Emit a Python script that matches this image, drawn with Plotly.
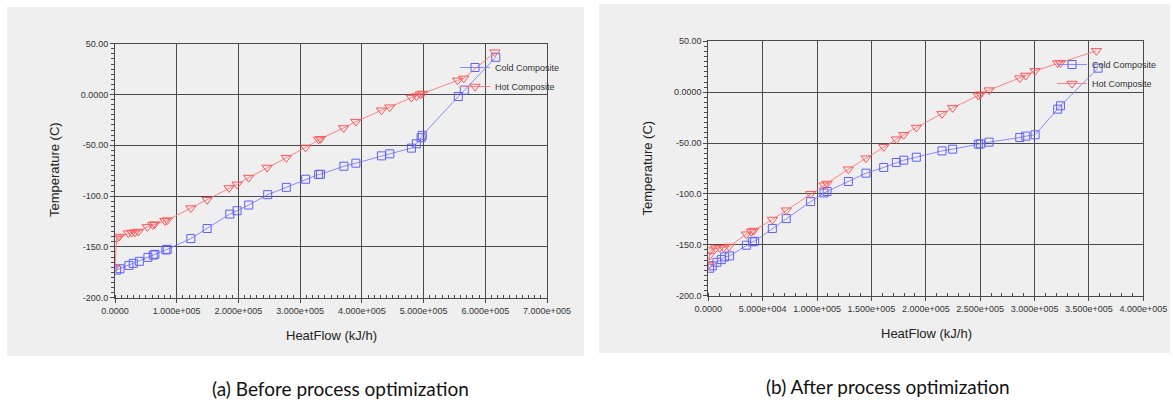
import plotly.graph_objects as go

# ---------------- data: (a) before optimization ----------------
a_cold_q = [2.7e3, 8.1e3, 22.6e3, 29.6e3, 39.4e3, 53.4e3, 62e3, 64.7e3, 82.5e3, 84.6e3,
            122.9e3, 149.3e3, 186e3, 197.8e3, 216.7e3, 247.4e3, 277.6e3, 308.9e3, 329.9e3, 333e3,
            370.9e3, 390.3e3, 431.8e3, 445.3e3, 480.3e3, 488.4e3, 496e3, 498e3, 556.3e3, 566e3, 617e3]
a_cold_t = [-172.8, -171.5, -168.2, -166.2, -164.2, -160.3, -158.0, -157.3, -153.0, -152.4,
            -141.8, -131.9, -117.7, -114.4, -108.8, -98.6, -91.4, -83.4, -78.8, -78.5,
            -70.6, -67.6, -60.4, -58.4, -52.8, -48.5, -42.5, -40.2, -2.0, 4.3, 36.6]

a_hot_q = [0, 2.7e3, 7e3, 21.6e3, 27e3, 32.3e3, 37.7e3, 52.3e3, 61e3, 64.2e3, 80.9e3, 84.6e3,
           122.9e3, 149.3e3, 184.9e3, 197.8e3, 216.7e3, 246.4e3, 277.6e3, 308.9e3, 329.9e3, 333.2e3,
           370.4e3, 390.3e3, 431.8e3, 445.3e3, 480.3e3, 488.4e3, 494.9e3, 498.7e3, 555.3e3, 565e3, 615.6e3]
a_hot_t = [-169.5, -141.5, -139.8, -136.5, -135.9, -135.6, -134.9, -130.3, -128.3, -127.6, -124.3, -123.7,
           -111.8, -103.6, -92.0, -88.4, -81.8, -71.9, -62.3, -52.1, -44.2, -43.5,
           -33.0, -26.7, -15.5, -12.5, -3.0, -1.6, 0.3, 1.0, 13.9, 15.8, 41.6]

# ---------------- data: (b) after optimization ----------------
b_cold_q = [1.2e3, 3.7e3, 8e3, 12e3, 15e3, 19.6e3, 35e3, 40.5e3, 42.6e3, 58.9e3, 71.7e3, 94.1e3,
            106.4e3, 109.2e3, 128.8e3, 145e3, 161.3e3, 172.9e3, 179.7e3, 191.3e3, 214.9e3, 224.7e3,
            248.3e3, 250.2e3, 258.2e3, 286.4e3, 291.9e3, 300.5e3, 321.3e3, 323.8e3, 358.4e3]
b_cold_t = [-173.0, -170.7, -167.1, -164.5, -161.9, -160.9, -150.4, -147.1, -146.5, -134.0, -124.2, -107.5,
            -99.0, -97.6, -87.8, -79.6, -74.0, -69.1, -66.8, -63.9, -57.7, -56.0,
            -51.1, -50.8, -49.1, -44.6, -43.2, -41.9, -16.7, -13.4, 23.6]

b_hot_q = [0.3e3, 1.2e3, 1.8e3, 6.7e3, 10.4e3, 14.1e3, 19e3, 35e3, 39.6e3, 41.7e3, 58.9e3, 71.7e3,
           94.1e3, 106.4e3, 109.2e3, 128.8e3, 145e3, 161.3e3, 172.9e3, 179.7e3, 191.3e3, 214.9e3,
           224.7e3, 248.3e3, 250.2e3, 258.2e3, 286.4e3, 291.9e3, 300.5e3, 321.3e3, 323.8e3, 356.9e3]
b_hot_t = [-169.7, -160.5, -155.3, -153.3, -153.0, -152.7, -151.7, -139.6, -137.0, -136.0, -125.2, -116.0,
           -99.9, -91.4, -89.8, -75.7, -64.9, -53.7, -46.2, -41.9, -34.7, -21.3,
           -15.4, -3.3, -2.0, 2.0, 13.8, 16.4, 21.0, 28.5, 28.8, 40.6]

# ---------------- tick labels ----------------
y_tickvals = [50, 0, -50, -100, -150, -200]
y_ticktext = ["50.00", "0.0000", "-50.00", "-100.0", "-150.0", "-200.0"]
a_x_tickvals = [0, 1e5, 2e5, 3e5, 4e5, 5e5, 6e5, 7e5]
a_x_ticktext = ["0.0000", "1.000e+005", "2.000e+005", "3.000e+005", "4.000e+005",
                "5.000e+005", "6.000e+005", "7.000e+005"]
b_x_tickvals = [0, 5e4, 1e5, 1.5e5, 2e5, 2.5e5, 3e5, 3.5e5, 4e5]
b_x_ticktext = ["0.0000", "5.000e+004", "1.000e+005", "1.500e+005", "2.000e+005",
                "2.500e+005", "3.000e+005", "3.500e+005", "4.000e+005"]

series_names = ["Cold Composite", "Hot Composite"]
captions = ["(a) Before process optimization", "(b) After process optimization"]
axis_titles = ["HeatFlow (kJ/h)", "Temperature (C)"]

W, H = 1173, 403
def px(x):
    return x / W
def py(y):
    return 1 - y / H

BLUE_LINE = "rgba(120,120,255,0.85)"
BLUE_MK = "rgb(95,95,255)"
RED_LINE = "rgba(255,120,120,0.9)"
RED_MK = "rgb(255,85,85)"
GRAY_BG = "#efefef"
FONT = "Liberation Sans, Arial, sans-serif"
CAP_FONT = "Lato, Liberation Sans, sans-serif"

fig = go.Figure()

def add_pair(q_c, t_c, q_h, t_h, xa, ya, leg):
    fig.add_trace(go.Scatter(
        x=q_c, y=t_c, name=series_names[0], mode="lines+markers",
        line=dict(color=BLUE_LINE, width=1),
        marker=dict(symbol="square-open", size=8, color=BLUE_MK, line=dict(color=BLUE_MK, width=1)),
        xaxis=xa, yaxis=ya, legend=leg))
    fig.add_trace(go.Scatter(
        x=q_h, y=t_h, name=series_names[1], mode="lines+markers",
        line=dict(color=RED_LINE, width=1),
        marker=dict(symbol="triangle-down-open", size=9, color=RED_MK, line=dict(color=RED_MK, width=1)),
        xaxis=xa, yaxis=ya, legend=leg))

add_pair(a_cold_q, a_cold_t, a_hot_q, a_hot_t, "x", "y", "legend")
add_pair(b_cold_q, b_cold_t, b_hot_q, b_hot_t, "x2", "y2", "legend2")

axis_common = dict(
    showgrid=True, gridcolor="#4a4a4a", gridwidth=1,
    showline=True, linecolor="#4a4a4a", linewidth=1, mirror=True,
    ticks="outside", ticklen=4, tickcolor="#4a4a4a",
    tickfont=dict(family=FONT, size=9, color="#333333"),
    zeroline=False, fixedrange=True, automargin=False,
)

def ann(text, x, y, size, fam, color, angle=0):
    return dict(text=text, xref="paper", yref="paper", x=px(x), y=py(y),
                xanchor="center", yanchor="middle", textangle=angle,
                showarrow=False, font=dict(family=fam, size=size, color=color))

legend_common = dict(xanchor="left", yanchor="top", xref="container", yref="container",
                     bgcolor="rgba(0,0,0,0)", font=dict(family=FONT, size=9, color="#333333"),
                     itemwidth=30, tracegroupgap=0)

fig.update_layout(
    template="none",
    width=W, height=H, autosize=False,
    margin=dict(l=0, r=0, t=0, b=0, pad=0, autoexpand=False),
    paper_bgcolor="white", plot_bgcolor=GRAY_BG,
    font=dict(family=FONT, color="#333333"),
    hovermode=False,
    xaxis=dict(domain=[px(115), px(547)], range=[0, 7e5], anchor="y",
               tickmode="array", tickvals=a_x_tickvals, ticktext=a_x_ticktext,
               minor=dict(dtick=1e4, ticks="inside", ticklen=3, tickcolor="#4a4a4a", showgrid=False),
               **axis_common),
    yaxis=dict(domain=[py(297.7), py(43.7)], range=[-200, 50], anchor="x",
               tickmode="array", tickvals=y_tickvals, ticktext=y_ticktext,
               minor=dict(dtick=5, ticks="outside", ticklen=3, tickcolor="#4a4a4a", showgrid=False),
               **axis_common),
    xaxis2=dict(domain=[px(708.3), px(1143.3)], range=[0, 4e5], anchor="y2",
                tickmode="array", tickvals=b_x_tickvals, ticktext=b_x_ticktext,
                minor=dict(dtick=1e4, ticks="inside", ticklen=3, tickcolor="#4a4a4a", showgrid=False),
                **axis_common),
    yaxis2=dict(domain=[py(295.7), py(41.3)], range=[-200, 50], anchor="x2",
                tickmode="array", tickvals=y_tickvals, ticktext=y_ticktext,
                minor=dict(dtick=5, ticks="outside", ticklen=3, tickcolor="#4a4a4a", showgrid=False),
                **axis_common),
    legend=dict(x=px(455), y=py(53), **legend_common),
    legend2=dict(x=px(1052), y=py(50), **legend_common),
    showlegend=True,
    shapes=[
        dict(type="rect", xref="paper", yref="paper", x0=px(7), x1=px(584), y0=py(356), y1=py(7),
             fillcolor=GRAY_BG, line=dict(width=0), layer="below"),
        dict(type="rect", xref="paper", yref="paper", x0=px(599), x1=px(1170), y0=py(353), y1=py(4),
             fillcolor=GRAY_BG, line=dict(width=0), layer="below"),
    ],
    annotations=[
        ann(axis_titles[0], 331, 335, 13, FONT, "#222222"),
        ann(axis_titles[0], 926, 333, 13, FONT, "#222222"),
        ann(axis_titles[1], 54, 170, 13, FONT, "#222222", -90),
        ann(axis_titles[1], 647.5, 168, 13, FONT, "#222222", -90),
        ann(captions[0], 340, 388, 19, CAP_FONT, "#111111"),
        ann(captions[1], 888, 386, 19, CAP_FONT, "#111111"),
    ],
)

fig.write_html("out.html",
               config={"displayModeBar": False, "staticPlot": True},
               post_script="document.body.style.margin='0';document.body.style.overflow='hidden';")
